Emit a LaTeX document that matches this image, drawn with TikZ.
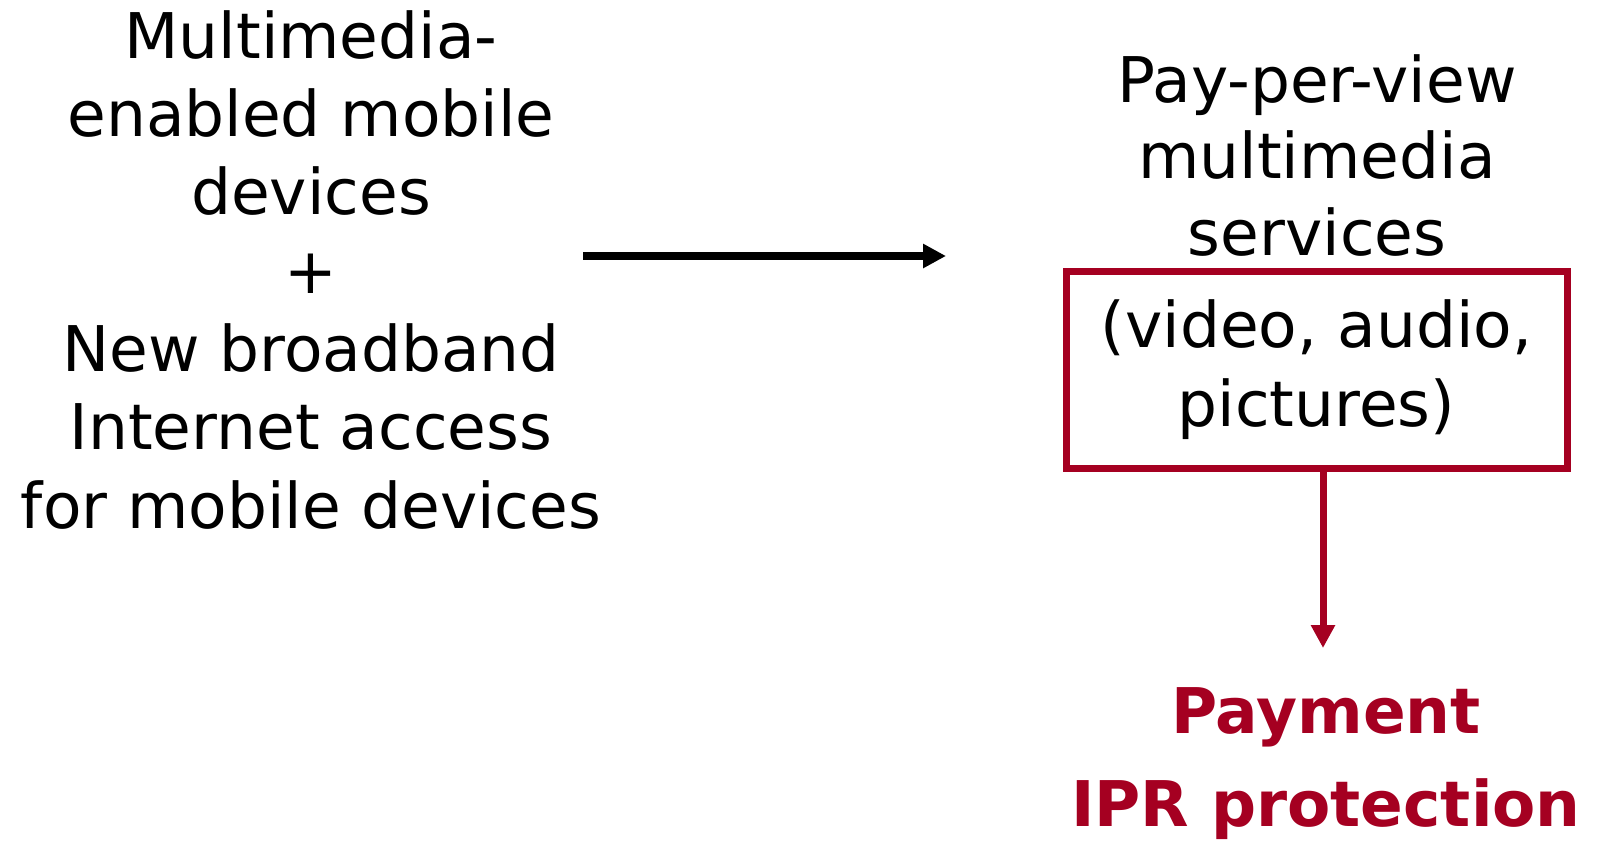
\documentclass[tikz,border=0pt]{standalone}
\usepackage{fontspec}
\setmainfont{DejaVu Sans}
\usetikzlibrary{arrows.meta,positioning}
\definecolor{iprred}{HTML}{A50021}

\begin{document}
\begin{tikzpicture}[x=1pt,y=-1pt,>={Triangle[length=23pt,width=23pt]},
    txt/.style={align=center,inner sep=0pt,font=\fontsize{63}{78.3}\selectfont},
    redbox/.style={draw=iprred,line width=7pt,minimum width=501pt,minimum height=197pt,inner sep=0pt},
    thickarrow/.style={->,line width=7.5pt}]
    \useasboundingbox (0,0) rectangle (1598,841);

    \node[txt,anchor=base] (left) at (311,528)
        {Multimedia-\\enabled mobile\\devices\\+\\New broadband\\Internet access\\for mobile devices};
    \node[txt,anchor=base,font=\fontsize{63}{76.5}\selectfont] (services) at (1317,255)
        {Pay-per-view\\multimedia\\services};
    \node[redbox,txt] (box) at (1316.5,369.5) {(video, audio,\\pictures)};
    \node[txt,anchor=base,text=iprred,font=\fontsize{63}{93}\selectfont\bfseries] (ipr) at (1326,826)
        {Payment\\IPR protection};

    \coordinate (from) at (583,256);
    \coordinate (to) at (946,256);
    \coordinate (down) at (1323,648);

    \draw[thickarrow] (from) -- (to);
    \draw[thickarrow,iprred,line width=7pt] (box.south -| down) -- (down);
\end{tikzpicture}
\end{document}
